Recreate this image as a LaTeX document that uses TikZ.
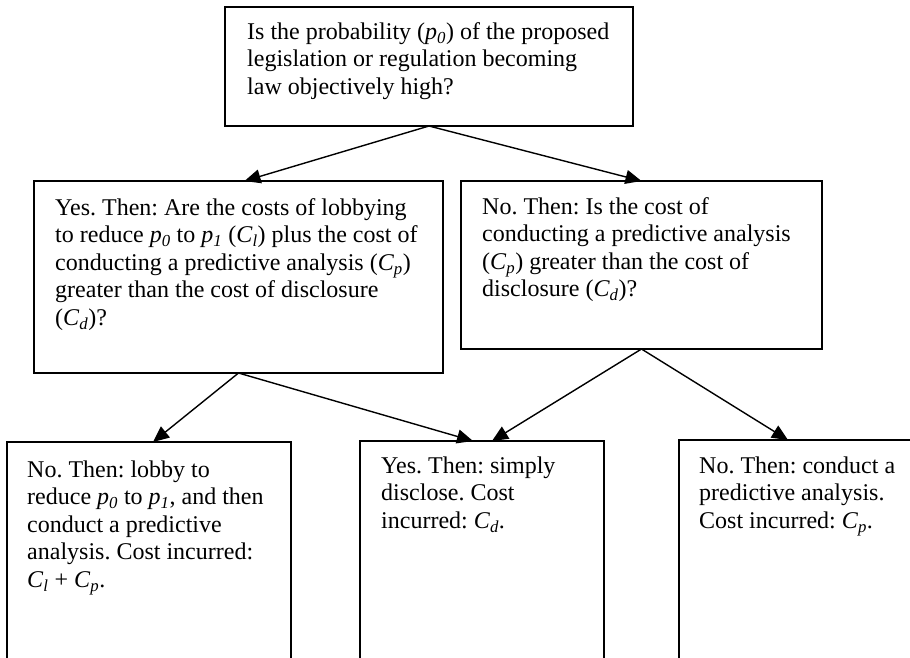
\documentclass[tikz,border=0pt]{standalone}
\usepackage{fontspec}
\setmainfont{Liberation Serif}
\usetikzlibrary{arrows.meta}
\newcommand{\sbs}[1]{\textsubscript{\itshape #1}}
\newcommand{\vv}[1]{\textit{#1}}
\frenchspacing
\begin{document}
\begin{tikzpicture}[x=1pt,y=-1pt,
  box/.style={draw=black, line width=1.3pt, inner sep=0pt, outer sep=0pt, anchor=north west},
  txt/.style={anchor=north west, inner sep=0pt, align=left, font=\fontsize{24}{27.5}\selectfont\frenchspacing},
  arr/.style={draw=black, line width=1.4pt, -{Triangle[length=16pt,width=14pt]}}]
\useasboundingbox[fill=white] (0,0) rectangle (910,658);
% boxes
\node[box, minimum width=408pt, minimum height=119pt] (q0) at (225,7) {};
\node[box, minimum width=409pt, minimum height=192pt] (q1) at (34,181) {};
\node[box, minimum width=361pt, minimum height=168pt] (q2) at (461,181) {};
\node[box, minimum width=284pt, minimum height=240pt] (r1) at (7,442) {};
\node[box, minimum width=244pt, minimum height=240pt] (r2) at (360,441) {};
\node[box, minimum width=250pt, minimum height=240pt] (r3) at (679,440) {};
% texts
\node[txt] (t0) at (247,20) {\strut Is the probability (\vv{p}\sbs{0}) of the proposed\\legislation or regulation becoming\\law objectively high?};
\node[txt] (t1) at (55,196) {\strut Yes. Then: Are the costs of lobbying\\to reduce \vv{p}\sbs{0} to \vv{p}\sbs{1} (\vv{C}\sbs{l}) plus the cost of\\conducting a predictive analysis (\vv{C}\sbs{p})\\greater than the cost of disclosure\\(\vv{C}\sbs{d})?};
\node[txt] (t2) at (482,195) {\strut No. Then: Is the cost of\\conducting a predictive analysis\\(\vv{C}\sbs{p}) greater than the cost of\\disclosure (\vv{C}\sbs{d})?};
\node[txt] (t3) at (27,458) {\strut No. Then: lobby to\\reduce \vv{p}\sbs{0} to \vv{p}\sbs{1}, and then\\conduct a predictive\\analysis. Cost incurred:\\\vv{C}\sbs{l} + \vv{C}\sbs{p}.};
\node[txt] (t4) at (381,454) {\strut Yes. Then: simply\\disclose. Cost\\incurred: \vv{C}\sbs{d}.};
\node[txt] (t5) at (699,454) {\strut No. Then: conduct a\\predictive analysis.\\Cost incurred: \vv{C}\sbs{p}.};
% connectors
\draw[arr] (q0.south) -- ([xshift=6pt]q1.north);
\draw[arr] (q0.south) -- (q2.north);
\draw[arr] (q1.south) -- ([xshift=4pt]r1.north);
\draw[arr] (q1.south) -- ([xshift=-9pt]r2.north);
\draw[arr] (q2.south) -- ([xshift=10pt]r2.north);
\draw[arr] (q2.south) -- ([xshift=-16pt]r3.north);
\end{tikzpicture}
\end{document}
